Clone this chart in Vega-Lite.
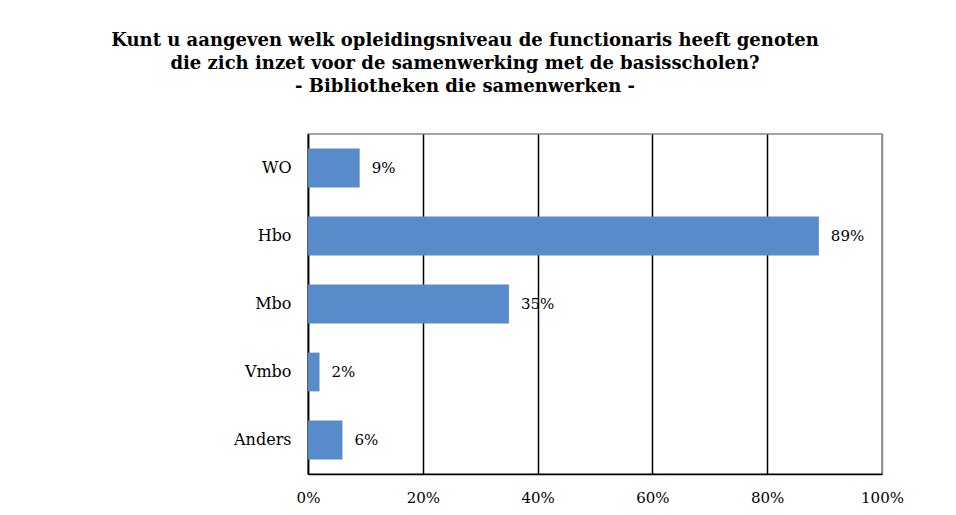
{
  "$schema": "https://vega.github.io/schema/vega-lite/v6.json",
  "autosize": {"type": "none"},
  "width": 574,
  "height": 340,
  "padding": {"left": 308, "top": 134, "right": 74, "bottom": 41},
  "background": "white",
  "title": {
    "text": ["Kunt u aangeven welk opleidingsniveau  de functionaris heeft genoten", "die zich inzet voor de samenwerking met de basisscholen?", "- Bibliotheken die samenwerken -"],
    "anchor": "middle",
    "frame": "group",
    "dx": -130,
    "offset": 38,
    "font": "DejaVu Serif",
    "fontSize": 18,
    "fontWeight": "bold",
    "lineHeight": 23,
    "color": "black"
  },
  "data": {
    "values": [
      {"niveau": "WO", "aandeel": 0.09},
      {"niveau": "Hbo", "aandeel": 0.89},
      {"niveau": "Mbo", "aandeel": 0.35},
      {"niveau": "Vmbo", "aandeel": 0.02},
      {"niveau": "Anders", "aandeel": 0.06}
    ]
  },
  "config": {
    "view": {"stroke": "#888888", "strokeWidth": 1.5},
    "font": "DejaVu Serif"
  },
  "encoding": {
    "y": {
      "field": "niveau",
      "type": "nominal",
      "sort": ["WO", "Hbo", "Mbo", "Vmbo", "Anders"],
      "scale": {"paddingInner": 0.43, "paddingOuter": 0.215},
      "axis": {
        "title": null,
        "ticks": false,
        "domain": true,
        "domainColor": "black",
        "domainWidth": 1.5,
        "labelFont": "DejaVu Serif",
        "labelFontSize": 16,
        "labelColor": "black",
        "labelPadding": 17
      }
    },
    "x": {
      "field": "aandeel",
      "type": "quantitative",
      "scale": {"domain": [0, 1], "nice": false},
      "axis": {
        "title": null,
        "format": ".0%",
        "values": [0, 0.2, 0.4, 0.6, 0.8, 1],
        "ticks": false,
        "domain": true,
        "domainColor": "black",
        "domainWidth": 1.5,
        "grid": true,
        "gridColor": {"condition": {"test": "datum.value === 1", "value": "#888888"}, "value": "black"},
        "gridWidth": 1.5,
        "gridOpacity": 1,
        "labelFont": "DejaVu Serif",
        "labelFontSize": 15,
        "labelColor": "black",
        "labelPadding": 16,
        "labelFlush": false
      }
    }
  },
  "layer": [
    {
      "mark": {"type": "bar", "color": "#588BC9"}
    },
    {
      "mark": {"type": "text", "align": "left", "dx": 12, "font": "DejaVu Serif", "fontSize": 15, "color": "black"},
      "encoding": {
        "text": {"field": "aandeel", "type": "quantitative", "format": ".0%"}
      }
    }
  ]
}
